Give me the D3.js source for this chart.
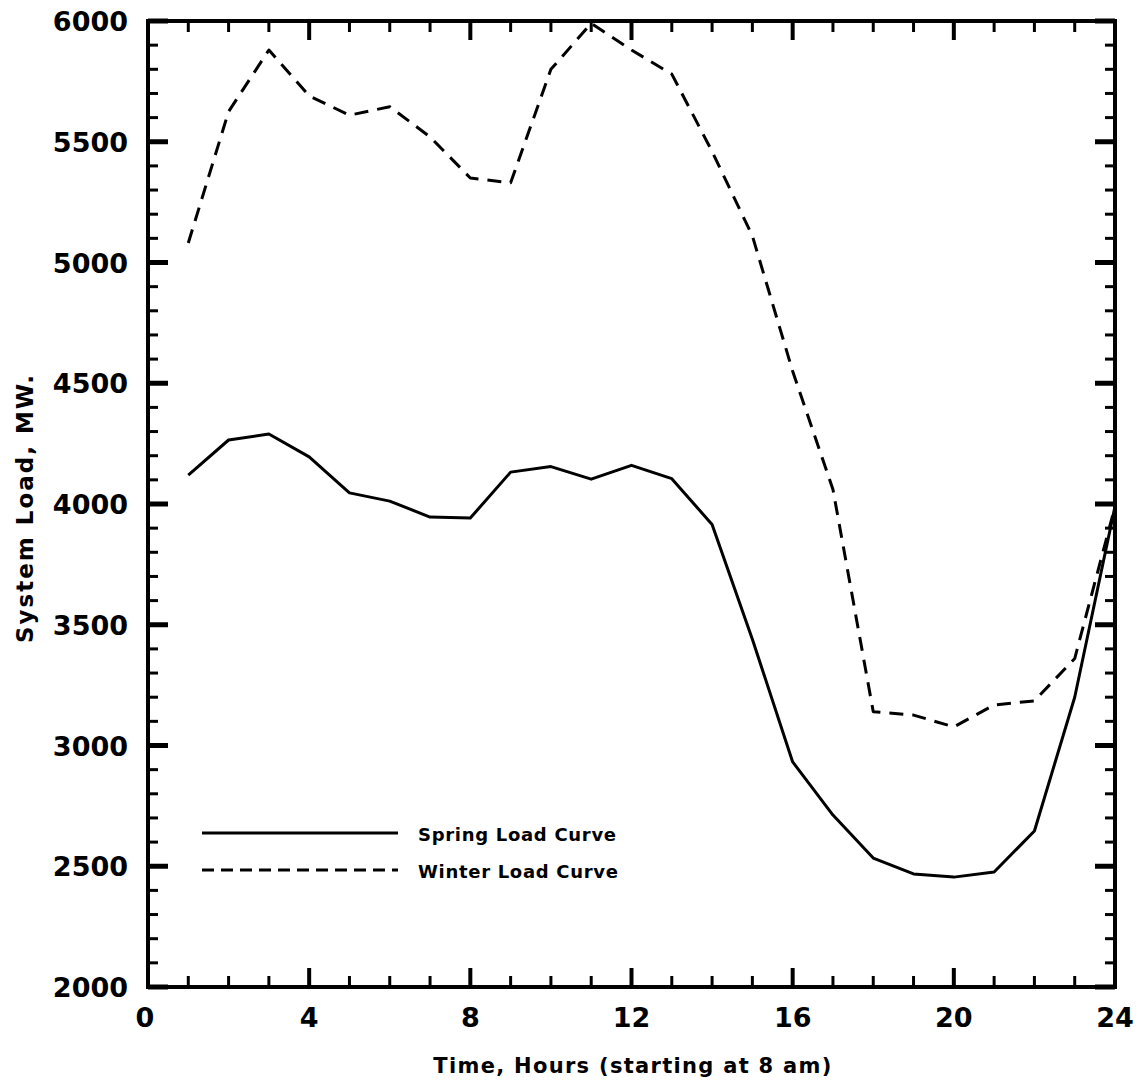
<!DOCTYPE html>
<html>
<head>
<meta charset="utf-8">
<script src="https://cdn.jsdelivr.net/npm/d3@7"></script>
<style>
  html, body { margin: 0; padding: 0; background: #fff; }
  text { font-family: "DejaVu Sans", sans-serif; font-weight: bold; fill: #000; }
</style>
</head>
<body>
<svg id="chart" width="1143" height="1088"></svg>
<script>
const hours = [1,2,3,4,5,6,7,8,9,10,11,12,13,14,15,16,17,18,19,20,21,22,23,24];
const springLoad = [4120,4265,4290,4195,4046,4012,3946,3942,4132,4155,4103,4160,4105,3915,3440,2932,2712,2534,2468,2455,2476,2646,3200,3990];
const winterLoad = [5081,5625,5880,5690,5610,5645,5520,5350,5330,5800,5990,5880,5780,5460,5110,4550,4060,3140,3126,3077,3168,3185,3360,3990];
const xTicks = [0,4,8,12,16,20,24];
const yTicks = [2000,2500,3000,3500,4000,4500,5000,5500,6000];
const seriesNames = ["Spring Load Curve", "Winter Load Curve"];
const xTitle = "Time, Hours (starting at 8 am)";
const yTitle = "System Load, MW.";

const svg = d3.select("#chart");
const L = 148, R = 1115, T = 21, B = 987;
const x = d3.scaleLinear().domain([0,24]).range([L,R]);
const y = d3.scaleLinear().domain([2000,6000]).range([B,T]);

const minorX = d3.range(0,25,1);
const minorY = d3.range(2000,6001,100);

// ticks (inward) on all four sides
const tg = svg.append("g").attr("stroke","#000").attr("stroke-linecap","butt");
minorX.forEach(v => {
  const major = v % 4 === 0;
  const len = major ? 19 : 11;
  const w = major ? 4 : 3;
  tg.append("line").attr("x1",x(v)).attr("x2",x(v)).attr("y1",B).attr("y2",B-len).attr("stroke-width",w);
  tg.append("line").attr("x1",x(v)).attr("x2",x(v)).attr("y1",T).attr("y2",T+len).attr("stroke-width",w);
});
minorY.forEach(v => {
  const major = v % 500 === 0;
  const len = major ? 20 : 10;
  const w = major ? 5 : 3;
  tg.append("line").attr("y1",y(v)).attr("y2",y(v)).attr("x1",L).attr("x2",L+len).attr("stroke-width",w);
  tg.append("line").attr("y1",y(v)).attr("y2",y(v)).attr("x1",R).attr("x2",R-len).attr("stroke-width",w);
});

// frame
svg.append("rect").attr("x",L).attr("y",T).attr("width",R-L).attr("height",B-T)
  .attr("fill","none").attr("stroke","#000").attr("stroke-width",4);

// tick labels
svg.append("g").selectAll("text").data(xTicks).join("text")
  .attr("x",d=>x(d) - (d===0 ? 3 : 0)).attr("y",B+40).attr("text-anchor","middle")
  .attr("font-size",27).text(d=>d);
svg.append("g").selectAll("text").data(yTicks).join("text")
  .attr("x",L-20).attr("y",d=>y(d)+10).attr("text-anchor","end")
  .attr("font-size",27).text(d=>d);

// axis titles
svg.append("text").attr("x",633).attr("y",1073).attr("text-anchor","middle")
  .attr("font-size",21).attr("letter-spacing",1.3).text(xTitle);
svg.append("text").attr("transform","translate(33,508) rotate(-90)").attr("text-anchor","middle")
  .attr("font-size",23).attr("letter-spacing",2).text(yTitle);

// lines
const line = d3.line().x((d,i)=>x(hours[i])).y(d=>y(d));
svg.append("path").datum(springLoad).attr("d",line).attr("fill","none")
  .attr("stroke","#000").attr("stroke-width",3).attr("stroke-linejoin","round");
svg.append("path").datum(winterLoad).attr("d",line).attr("fill","none")
  .attr("stroke","#000").attr("stroke-width",3).attr("stroke-dasharray","14,9").attr("stroke-linejoin","round");

// legend
const lg = svg.append("g");
lg.append("line").attr("x1",202).attr("x2",398).attr("y1",833).attr("y2",833)
  .attr("stroke","#000").attr("stroke-width",3);
lg.append("line").attr("x1",202).attr("x2",398).attr("y1",870).attr("y2",870)
  .attr("stroke","#000").attr("stroke-width",3).attr("stroke-dasharray","12,7");
lg.append("text").attr("x",418).attr("y",841).attr("font-size",18).attr("letter-spacing",0.7).text(seriesNames[0]);
lg.append("text").attr("x",418).attr("y",878).attr("font-size",18).attr("letter-spacing",0.7).text(seriesNames[1]);
</script>
</body>
</html>
